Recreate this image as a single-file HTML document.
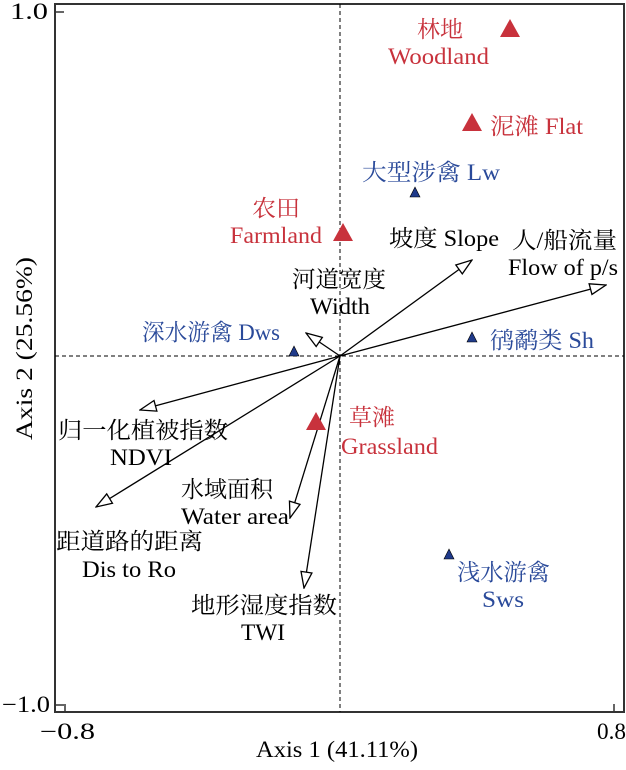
<!DOCTYPE html>
<html><head><meta charset="utf-8"><style>
body{margin:0;background:#fff}
text{font-family:"Liberation Serif","Noto Serif CJK SC",serif;font-size:23px}
.r{fill:#c8323c}.b{fill:#2a4a9a}.k{fill:#000}
</style></head><body>
<svg width="626" height="765" viewBox="0 0 626 765" xmlns="http://www.w3.org/2000/svg">
<defs>
<marker id="a" markerWidth="18" markerHeight="14" refX="17" refY="7" orient="auto" markerUnits="userSpaceOnUse">
<path d="M1,1.5 L17,7 L1,12.5 Z" fill="#fff" stroke="#000" stroke-width="1.3"/>
</marker>
</defs>
<rect x="55" y="4" width="569" height="708" fill="none" stroke="#333" stroke-width="2"/>
<line x1="55" y1="12" x2="64" y2="12" stroke="#333" stroke-width="1.5"/>
<line x1="55" y1="705" x2="64" y2="705" stroke="#333" stroke-width="1.5"/>
<line x1="65" y1="712" x2="65" y2="704" stroke="#333" stroke-width="1.5"/>
<line x1="614" y1="712" x2="614" y2="704" stroke="#333" stroke-width="1.5"/>
<line x1="340" y1="4" x2="340" y2="712" stroke="#000" stroke-dasharray="4,3"/>
<line x1="55" y1="356" x2="624" y2="356" stroke="#000" stroke-dasharray="4,3"/>
<text x="10" y="19" textLength="38" lengthAdjust="spacingAndGlyphs" class="k">1.0</text>
<text x="2" y="712" textLength="48" lengthAdjust="spacingAndGlyphs" class="k">−1.0</text>
<text x="40" y="739" textLength="55" lengthAdjust="spacingAndGlyphs" class="k">−0.8</text>
<text x="597" y="739" textLength="29" lengthAdjust="spacingAndGlyphs" class="k">0.8</text>
<text x="256" y="757" textLength="162" lengthAdjust="spacingAndGlyphs" class="k">Axis 1 (41.11%)</text>
<text transform="translate(32,440) rotate(-90)" textLength="183" lengthAdjust="spacingAndGlyphs" class="k">Axis 2 (25.56%)</text>
<g stroke="#000" stroke-width="1.3" marker-end="url(#a)">
<line x1="340" y1="356" x2="472" y2="260"/>
<line x1="340" y1="356" x2="606" y2="285"/>
<line x1="340" y1="356" x2="306" y2="333"/>
<line x1="340" y1="356" x2="140" y2="410"/>
<line x1="340" y1="356" x2="96" y2="507"/>
<line x1="340" y1="356" x2="290" y2="518"/>
<line x1="340" y1="356" x2="304" y2="588"/>
</g>
<g fill="#c8323c">
<path d="M510,19 L520,37 L500,37 Z"/>
<path d="M472,113 L482,131 L462,131 Z"/>
<path d="M343,223 L353,241 L333,241 Z"/>
<path d="M316,412 L326,430 L306,430 Z"/>
</g>
<g fill="#1f3a8a" stroke="#000" stroke-width="0.6">
<path d="M415,187 L420,197 L410,197 Z"/>
<path d="M294,346 L299,356 L289,356 Z"/>
<path d="M472,332 L477,342 L467,342 Z"/>
<path d="M449,549 L454,559 L444,559 Z"/>
</g>
<text x="417" y="37" textLength="46" lengthAdjust="spacingAndGlyphs" class="r">林地</text>
<text x="388" y="64" textLength="101" lengthAdjust="spacingAndGlyphs" class="r">Woodland</text>
<text x="490" y="134" textLength="93" lengthAdjust="spacingAndGlyphs" class="r">泥滩 Flat</text>
<text x="252" y="216" textLength="48" lengthAdjust="spacingAndGlyphs" class="r">农田</text>
<text x="230" y="243" textLength="92" lengthAdjust="spacingAndGlyphs" class="r">Farmland</text>
<text x="349" y="425" textLength="46" lengthAdjust="spacingAndGlyphs" class="r">草滩</text>
<text x="341" y="454" textLength="97" lengthAdjust="spacingAndGlyphs" class="r">Grassland</text>
<text x="362" y="180" textLength="138" lengthAdjust="spacingAndGlyphs" class="b">大型涉禽 Lw</text>
<text x="142" y="340" textLength="138" lengthAdjust="spacingAndGlyphs" class="b">深水游禽 Dws</text>
<text x="490" y="348" textLength="104" lengthAdjust="spacingAndGlyphs" class="b">鸻鹬类 Sh</text>
<text x="457" y="580" textLength="93" lengthAdjust="spacingAndGlyphs" class="b">浅水游禽</text>
<text x="482" y="607" textLength="42" lengthAdjust="spacingAndGlyphs" class="b">Sws</text>
<text x="389" y="246" textLength="110" lengthAdjust="spacingAndGlyphs" class="k">坡度 Slope</text>
<text x="512" y="248" textLength="105" lengthAdjust="spacingAndGlyphs" class="k">人/船流量</text>
<text x="508" y="275" textLength="110" lengthAdjust="spacingAndGlyphs" class="k">Flow of p/s</text>
<text x="292" y="287" textLength="94" lengthAdjust="spacingAndGlyphs" class="k">河道宽度</text>
<text x="310" y="314" textLength="60" lengthAdjust="spacingAndGlyphs" class="k">Width</text>
<text x="58" y="438" textLength="170" lengthAdjust="spacingAndGlyphs" class="k">归一化植被指数</text>
<text x="110" y="465" textLength="62" lengthAdjust="spacingAndGlyphs" class="k">NDVI</text>
<text x="181" y="497" textLength="92" lengthAdjust="spacingAndGlyphs" class="k">水域面积</text>
<text x="181" y="524" textLength="108" lengthAdjust="spacingAndGlyphs" class="k">Water area</text>
<text x="56" y="549" textLength="147" lengthAdjust="spacingAndGlyphs" class="k">距道路的距离</text>
<text x="82" y="577" textLength="94" lengthAdjust="spacingAndGlyphs" class="k">Dis to Ro</text>
<text x="191" y="613" textLength="146" lengthAdjust="spacingAndGlyphs" class="k">地形湿度指数</text>
<text x="241" y="640" textLength="44" lengthAdjust="spacingAndGlyphs" class="k">TWI</text>
</svg>
</body></html>
